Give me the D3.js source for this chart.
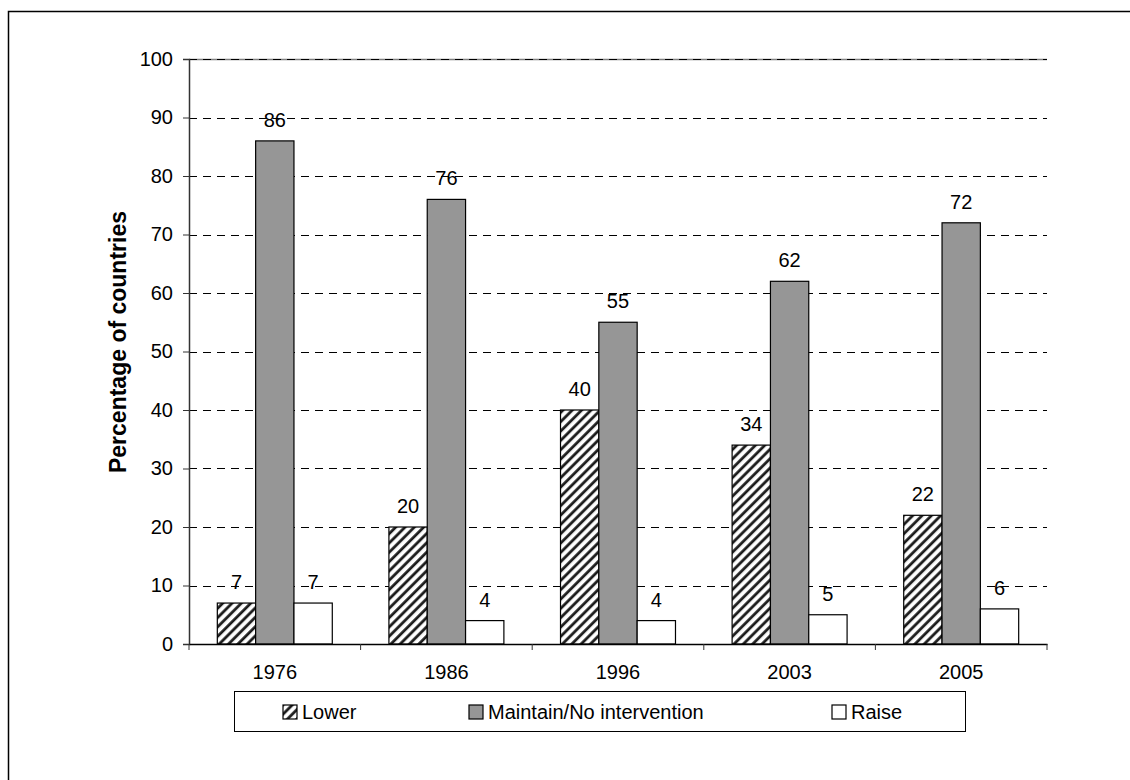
<!DOCTYPE html>
<html>
<head>
<meta charset="utf-8">
<script src="https://cdn.jsdelivr.net/npm/d3@7"></script>
<style>
  html, body { margin: 0; padding: 0; background: #fff; }
  svg { display: block; }
  text { font-family: Arial, "Liberation Sans", sans-serif; fill: #000; }
</style>
</head>
<body>
<svg id="chart" width="1130" height="780"></svg>
<script>
// Population policy stance by survey year (percentage of countries)
const years = ["1976", "1986", "1996", "2003", "2005"];
const seriesNames = ["Lower", "Maintain/No intervention", "Raise"];
const lowerValues = [7, 20, 40, 34, 22];
const maintainValues = [86, 76, 55, 62, 72];
const raiseValues = [7, 4, 4, 5, 6];
const yTicks = [0, 10, 20, 30, 40, 50, 60, 70, 80, 90, 100];

const series = [
  { name: seriesNames[0], values: lowerValues, fill: "url(#hatch)" },
  { name: seriesNames[1], values: maintainValues, fill: "#969696" },
  { name: seriesNames[2], values: raiseValues, fill: "#ffffff" }
];

const svg = d3.select("#chart");
const W = 1130, H = 780;
const plot = { left: 189, right: 1047, top: 59, bottom: 644 };
const FONT = 20;
const FAMILY = "Arial, 'Liberation Sans', sans-serif";

// diagonal hatch for the "Lower" series
const defs = svg.append("defs");
const pat = defs.append("pattern")
  .attr("id", "hatch")
  .attr("patternUnits", "userSpaceOnUse")
  .attr("width", 6.6).attr("height", 6.6)
  .attr("patternTransform", "rotate(45)");
pat.append("rect").attr("width", 6.6).attr("height", 6.6).attr("fill", "#fff");
pat.append("line")
  .attr("x1", 1.6).attr("y1", 0).attr("x2", 1.6).attr("y2", 6.6)
  .attr("stroke", "#1a1a1a").attr("stroke-width", 2.8);

// outer chart frame (runs past the right and bottom edges)
svg.append("rect")
  .attr("x", 8.5).attr("y", 11.5)
  .attr("width", W + 50).attr("height", H + 50)
  .attr("fill", "none").attr("stroke", "#000").attr("stroke-width", 1.5);

const x0 = d3.scaleBand().domain(years).range([plot.left, plot.right]).paddingInner(0).paddingOuter(0);
const groupW = x0.bandwidth() * 0.67;
const x1 = d3.scaleBand().domain(seriesNames)
  .range([(x0.bandwidth() - groupW) / 2, (x0.bandwidth() + groupW) / 2]);
const y = d3.scaleLinear().domain([0, 100]).range([plot.bottom, plot.top]);

// top edge of the plot area
svg.append("line")
  .attr("x1", plot.left).attr("x2", plot.right)
  .attr("y1", plot.top + 0.5).attr("y2", plot.top + 0.5)
  .attr("stroke", "#808080").attr("stroke-width", 1.5);

// dashed horizontal gridlines
svg.append("g")
  .selectAll("line")
  .data(yTicks.filter(d => d > 0))
  .join("line")
  .attr("x1", plot.left).attr("x2", plot.right)
  .attr("y1", d => Math.round(y(d)) + 0.5).attr("y2", d => Math.round(y(d)) + 0.5)
  .attr("stroke", "#000").attr("stroke-width", 1)
  .attr("stroke-dasharray", "8,6");

// bars
const groups = svg.append("g")
  .selectAll("g")
  .data(years)
  .join("g")
  .attr("transform", d => `translate(${x0(d)},0)`);

groups.selectAll("rect")
  .data((d, i) => series.map(s => ({ s, v: s.values[i] })))
  .join("rect")
  .attr("x", d => x1(d.s.name))
  .attr("y", d => y(d.v))
  .attr("width", x1.bandwidth())
  .attr("height", d => y(0) - y(d.v))
  .attr("fill", d => d.s.fill)
  .attr("stroke", "#000").attr("stroke-width", 1.2);

// value labels
groups.selectAll("text.val")
  .data((d, i) => series.map(s => ({ s, v: s.values[i] })))
  .join("text")
  .attr("class", "val")
  .attr("x", d => x1(d.s.name) + x1.bandwidth() / 2)
  .attr("y", d => y(d.v) - 14)
  .attr("text-anchor", "middle")
  .attr("font-size", FONT)
  .text(d => d.v);

// y axis
const yAxis = d3.axisLeft(y).tickValues(yTicks).tickSize(6).tickPadding(10);
const gy = svg.append("g").attr("transform", `translate(${plot.left},0)`).call(yAxis);
gy.select(".domain").attr("stroke", "#333").attr("stroke-width", 1.5);
gy.selectAll(".tick line").attr("stroke", "#333");
gy.selectAll(".tick text").attr("font-size", FONT).attr("font-family", FAMILY).attr("fill", "#000");

// x axis
const xAxis = d3.axisBottom(x0).tickSize(0).tickPadding(21);
const gx = svg.append("g").attr("transform", `translate(0,${plot.bottom})`).call(xAxis);
gx.select(".domain").attr("stroke", "#000").attr("stroke-width", 1.5);
gx.selectAll(".tick text").attr("font-size", FONT).attr("font-family", FAMILY).attr("fill", "#000");
// category separator ticks
svg.append("g")
  .selectAll("line")
  .data(d3.range(years.length + 1))
  .join("line")
  .attr("x1", i => plot.left + i * x0.step()).attr("x2", i => plot.left + i * x0.step())
  .attr("y1", plot.bottom).attr("y2", plot.bottom + 6)
  .attr("stroke", "#333").attr("stroke-width", 1);

// y axis title
svg.append("text")
  .attr("transform", `translate(126,342) rotate(-90)`)
  .attr("text-anchor", "middle")
  .attr("font-size", 23)
  .attr("font-weight", "bold")
  .text("Percentage of countries");

// legend
const lg = { x: 234, y: 691, w: 731, h: 40 };
svg.append("rect")
  .attr("x", lg.x + 0.5).attr("y", lg.y + 0.5).attr("width", lg.w).attr("height", lg.h)
  .attr("fill", "#fff").attr("stroke", "#000").attr("stroke-width", 1);
const legendX = [283, 469, 832];
const items = svg.append("g").selectAll("g")
  .data(series)
  .join("g")
  .attr("transform", (d, i) => `translate(${legendX[i]},${lg.y + 21})`);
items.append("rect")
  .attr("x", 0).attr("y", -7).attr("width", 14).attr("height", 14)
  .attr("fill", d => d.fill).attr("stroke", "#000").attr("stroke-width", 1.2);
items.append("text")
  .attr("x", 19).attr("y", 0).attr("dy", "0.36em")
  .attr("font-size", FONT)
  .text(d => d.name);
</script>
</body>
</html>
